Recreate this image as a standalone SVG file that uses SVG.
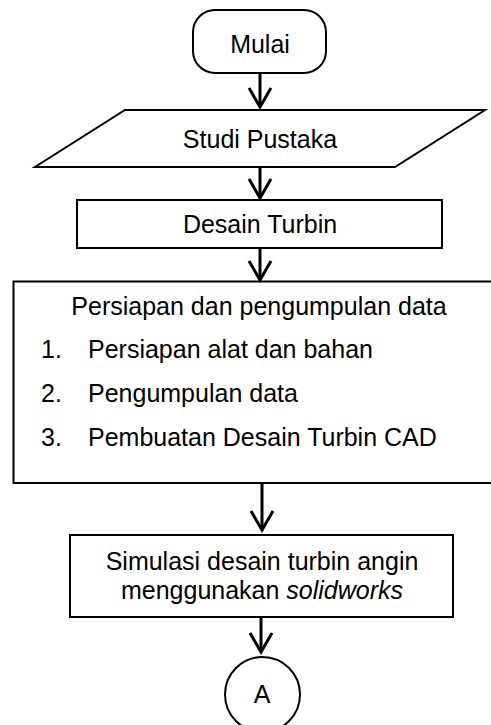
<svg xmlns="http://www.w3.org/2000/svg" width="491" height="725" viewBox="0 0 491 725">
<style>
.shape{fill:#fff;stroke:#000;stroke-width:2}
.t{font-family:"Liberation Sans",Arial,sans-serif;font-size:25px;fill:#000}
.c{text-anchor:middle}
.conn line,.conn polyline{fill:none;stroke:#000;stroke-width:3}
</style>
<rect width="491" height="725" fill="#fff"/>
<g id="mulai">
<rect class="shape" x="193" y="10" width="133" height="63" rx="22" ry="22"/>
<text class="t c" x="260" y="53">Mulai</text>
</g>
<g id="studi-pustaka">
<polygon class="shape" points="125,110 485,110 395,167 35,167"/>
<text class="t c" x="260" y="148">Studi Pustaka</text>
</g>
<g id="desain-turbin">
<rect class="shape" x="77" y="200" width="365" height="48"/>
<text class="t c" x="260" y="233">Desain Turbin</text>
</g>
<g id="persiapan">
<rect class="shape" x="13.5" y="281.5" width="490" height="201.5"/>
<text class="t c" x="259" y="315">Persiapan dan pengumpulan data</text>
<text class="t" x="41" y="358">1.</text>
<text class="t" x="88" y="358">Persiapan alat dan bahan</text>
<text class="t" x="41" y="402">2.</text>
<text class="t" x="88" y="402">Pengumpulan data</text>
<text class="t" x="41" y="446">3.</text>
<text class="t" x="88" y="446">Pembuatan Desain Turbin CAD</text>
</g>
<g id="simulasi">
<rect class="shape" x="70" y="535" width="383" height="82"/>
<text class="t c" x="262" y="570">Simulasi desain turbin angin</text>
<text class="t c" x="262" y="599">menggunakan <tspan font-style="italic">solidworks</tspan></text>
</g>
<g id="connector-a">
<circle class="shape" cx="262.5" cy="694.5" r="37.5"/>
<text class="t c" x="262" y="703">A</text>
</g>
<g class="conn" id="connectors">
<line x1="260" y1="73" x2="260" y2="107"/>
<polyline points="249,88 260,107 271,88"/>
<line x1="260" y1="167" x2="260" y2="198"/>
<polyline points="249,179 260,198 271,179"/>
<line x1="260" y1="248" x2="260" y2="280"/>
<polyline points="249,261 260,280 271,261"/>
<line x1="262" y1="483" x2="262" y2="530"/>
<polyline points="251,511 262,530 273,511"/>
<line x1="261" y1="617" x2="261" y2="652"/>
<polyline points="250,633 261,652 272,633"/>
</g>
</svg>
